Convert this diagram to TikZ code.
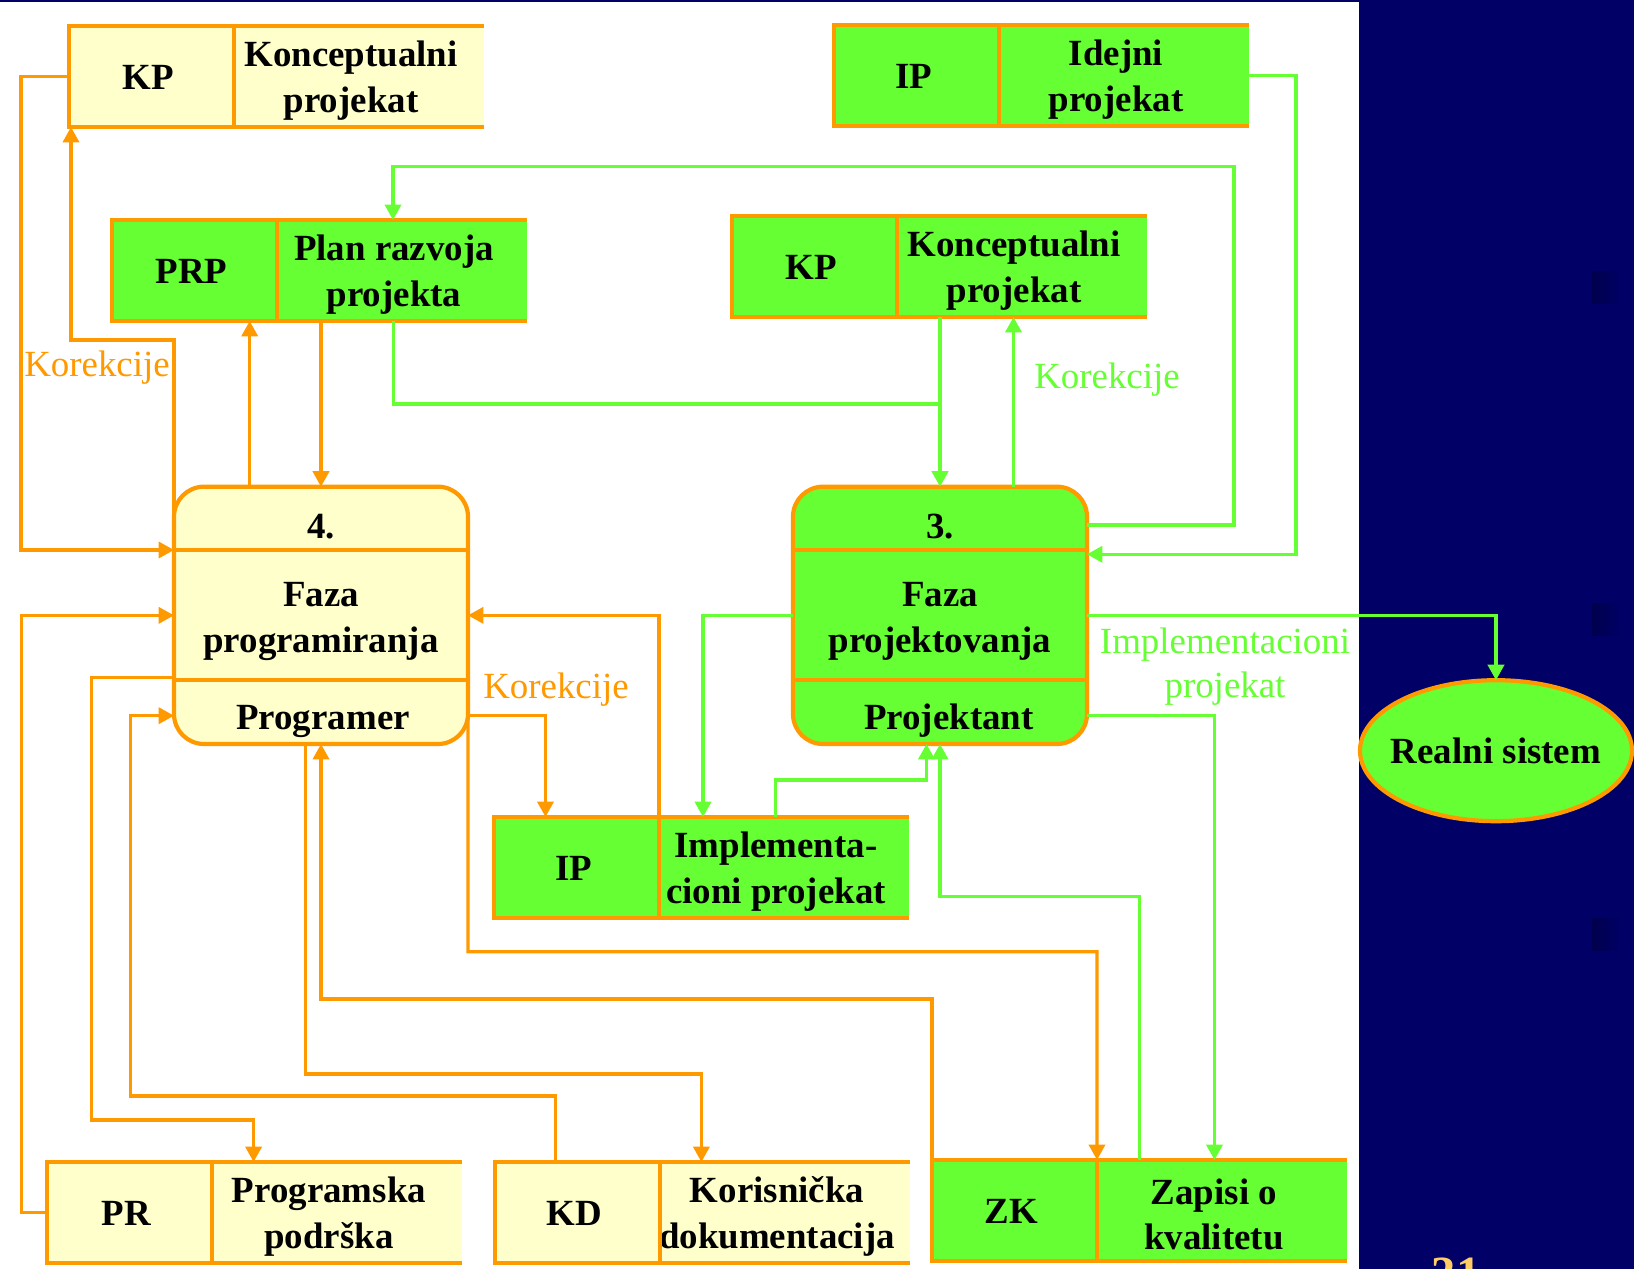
\documentclass[tikz,border=0pt]{standalone}
\usepackage{fontspec}
\setmainfont{Liberation Serif}
\usetikzlibrary{arrows.meta,calc,shapes.geometric}

\definecolor{dfdorange}{HTML}{FF9900}
\definecolor{dfdgreen}{HTML}{66FF33}
\definecolor{dfdyellow}{HTML}{FFFFCC}
\definecolor{slidenavy}{HTML}{000066}
\definecolor{slidegold}{HTML}{FFCC66}

\tikzset{
    every node/.style={font=\fontsize{10.5}{13}\selectfont\bfseries,align=center,inner sep=0pt,outer sep=0pt},
    storeid/.style={minimum width=16.5mm,minimum height=10.1mm,anchor=north west},
    storetxt/.style={minimum width=25mm,minimum height=10.1mm,anchor=west},
    dfdborder/.style={draw=dfdorange,line width=1.2pt},
    phasebox/.style={dfdborder,rounded corners=3mm,minimum width=29.4mm,minimum height=25.73mm},
    flowtip/.style={-{Triangle[length=4.4pt,width=4.6pt]}},
    oplain/.style={draw=dfdorange,line width=0.95pt},
    gplain/.style={draw=dfdgreen,line width=0.95pt},
    oflow/.style={oplain,flowtip},
    gflow/.style={gplain,flowtip},
    olabel/.style={text=dfdorange,font=\fontsize{10.5}{12.5}\selectfont},
    glabel/.style={text=dfdgreen,font=\fontsize{10.5}{12.5}\selectfont}
}

\newcommand{\DataStore}[5]{%
    \node[storeid,fill=#5] (#1-id) at #2 {};
    \node[storetxt,fill=#5] (#1) at (#1-id.east) {};
    \node (#1-idtext) at ($(#1-id.center)+(-3,1)$) {#3};
    \node (#1-text) at ($(#1.center)+(-8,4)$) {#4};
    \draw[dfdborder] (#1.north east) -- (#1-id.north west) -- (#1-id.south west) -- (#1.south east)
        (#1-id.north east) -- (#1-id.south east);
}
\newcommand{\Phase}[7]{%
    \node[phasebox,fill=#6] (#1) at #2 {};
    \draw[dfdborder] ($(#1.north west)+(0,63.3)$) -- ($(#1.north east)+(0,63.3)$)
        ($(#1.south west)+(0,-64)$) -- ($(#1.south east)+(0,-64)$);
    \node (#1-nr) at ($(#1.north)+(0,40)$) {#3};
    \node (#1-name) at ($(#1.center)+(0,6)$) {#4};
    \node (#1-actor) at ($(#1.south)+(#7,-23)$) {#5};
}

\begin{document}
\begin{tikzpicture}[x=0.1mm,y=-0.1mm]
    \useasboundingbox (0,0) rectangle (1634,1269);
    \clip (0,0) rectangle (1634,1269);
    \fill[white] (0,0) rectangle (1359,1269);
    \fill[slidenavy] (1359,0) rectangle (1634,1269) (0,0) rectangle (1359,2);
    \foreach \y in {271,603,918}
        \fill[left color=slidenavy!75!black,right color=slidenavy] (1592,\y) rectangle ++(28,32);
    \node[text=slidegold,font=\fontsize{14}{14}\selectfont\bfseries,anchor=base] (slidenr) at (1456,1290) {31};

    \DataStore{kp1}{(69,26)}{KP}{Konceptualni\\projekat}{dfdyellow}
    \DataStore{ip1}{(834,25)}{IP}{Idejni\\projekat}{dfdgreen}
    \DataStore{prp}{(112,220)}{PRP}{Plan razvoja\\projekta}{dfdgreen}
    \DataStore{kp2}{(732,216)}{KP}{Konceptualni\\projekat}{dfdgreen}
    \DataStore{ip3}{(494,817)}{IP}{Implementa-\\cioni projekat}{dfdgreen}
    \DataStore{pr}{(47,1162)}{PR}{Programska\\podrška}{dfdyellow}
    \DataStore{kd}{(495,1162)}{KD}{Korisnička\\dokumentacija}{dfdyellow}
    \DataStore{zk}{(932,1160)}{ZK}{Zapisi o\\kvalitetu}{dfdgreen}

    \Phase{p4}{(321,615.35)}{4.}{Faza\\programiranja}{Programer}{dfdyellow}{2}
    \Phase{p3}{(940,615.35)}{3.}{Faza\\projektovanja}{Projektant}{dfdgreen}{9}
    \node[ellipse,dfdborder,fill=dfdgreen,minimum width=27.2mm,minimum height=14.1mm,
        label={center:Realni sistem}] (real) at (1496,750.7) {};

    \draw[oflow] ($(p4.north west)+(0,30)$) |- (71,340) -- ($(kp1-id.south west)+(2,0)$);
    \draw[oflow] (kp1-id.west) -- ++(-48,0) |- ($(p4.north west)+(0,63.3)$);
    \draw[oflow] (p4.north -| 249.7,0) -- (prp-id.south -| 249.7,0);
    \draw[oflow] (prp.south -| p4.north) -- (p4.north);
    \draw[oflow] ($(p4.south east)+(0,-28.3)$) -| (ip3-id.north -| 545.5,0);
    \draw[oflow] (ip3-id.north east) |- (p4.east);
    \draw[oflow] ($(p4.south east)+(0,-30)$) |- (1097,951.7) -- (zk-id.north east);
    \draw[oflow] ($(p4.south west)+(0,-66.3)$) -| (91.5,1120) -| (pr.north -| 253.6,0);
    \draw[oflow] (pr-id.west) -- ++(-25.5,0) |- (p4.west);
    \draw[oflow] (kd-id.north -| 555.7,0) |- (130.7,1096) |- ($(p4.south west)+(0,-28.3)$);
    \draw[oflow] (p4.south -| 305.7,0) |- (701.4,1074) -- (kd.north -| 701.4,0);
    \draw[oflow] (zk-id.north west) |- (p4.south |- 0,999) -- (p4.south);

    \draw[gplain] (prp.south -| 393.6,0) |- (p3.north |- 0,404);
    \draw[gflow] (kp2.south -| p3.north) -- (p3.north);
    \draw[gflow] (p3.north -| 1013.5,0) -- (kp2.south -| 1013.5,0);
    \draw[gflow] ($(p3.north east)+(0,38.3)$) -| (1234,166.7) -| (prp.north -| 393,0);
    \draw[gflow] (ip1.east) -- ++(47,0) |- ($(p3.north east)+(0,67.6)$);
    \draw[gflow] (p3.west) -| (ip3.north -| 703,0);
    \draw[gflow] (p3.east) -| (real.north);
    \draw[gflow] ($(p3.south east)+(0,-28.3)$) -| (zk.north -| 1214.5,0);
    \draw[gflow] (ip3.north -| 775.5,0) |- (926.5,780) -- (p3.south -| 926.5,0);
    \draw[gflow] (zk.north -| 1139.7,0) |- (p3.south |- 0,896.7) -- (p3.south);

    \node[olabel] (korek-kp1) at (97,368) {Korekcije};
    \node[glabel] (korek-kp2) at (1107,380) {Korekcije};
    \node[olabel] (korek-ip3) at (556,690) {Korekcije};
    \node[glabel] (impl-real) at (1225,667) {Implementacioni\\projekat};
\end{tikzpicture}
\end{document}
